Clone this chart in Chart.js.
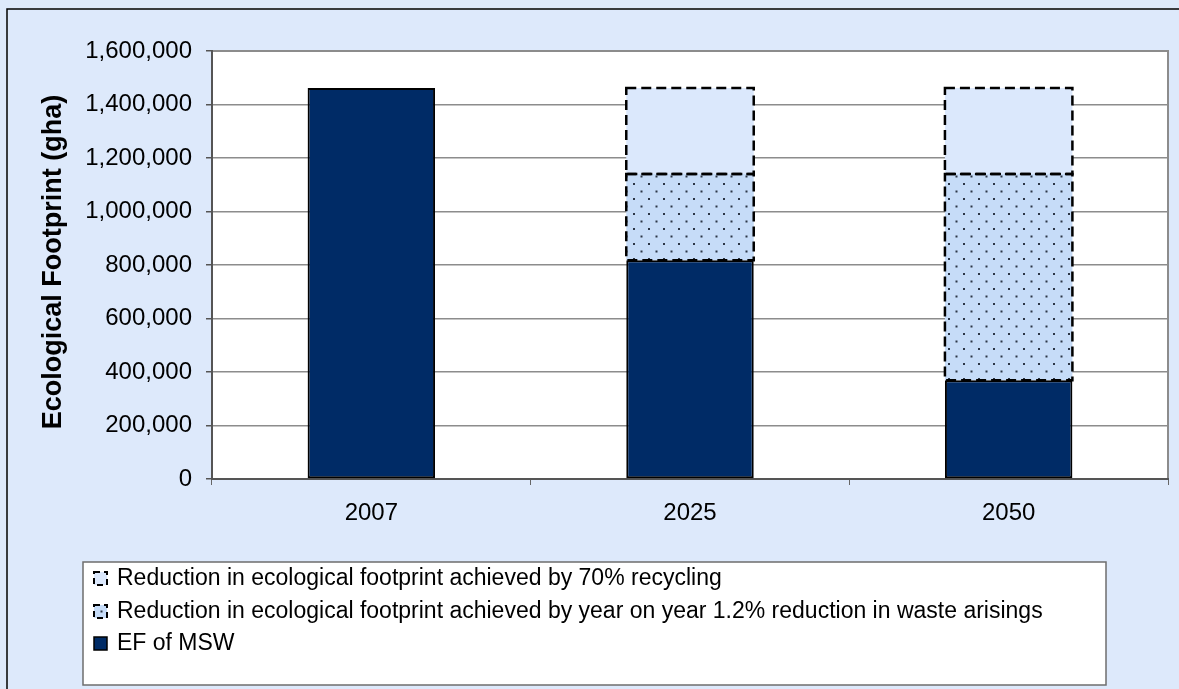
<!DOCTYPE html>
<html lang="en">
  <head>
    <meta charset="UTF-8" />
    <title>Ecological Footprint of MSW</title>
    <style>
      html, body { margin: 0; padding: 0; background: #dde9fb; }
      #chartBox { width: 1179px; height: 689px; }
    </style>
  </head>
  <body>
    <script src="https://cdn.jsdelivr.net/npm/chart.js@4/dist/chart.umd.min.js"></script>
    <div id="chartBox"><canvas id="chartJSContainer"></canvas></div>

    <script>
      // data
      const categories = ["2007", "2025", "2050"];
      const efMSW = [1462000, 818000, 369000];
      const reductionArisings = [0, 322000, 771000];
      const reductionRecycling = [0, 322000, 322000];
      const yTicks = [0, 200000, 400000, 600000, 800000, 1000000, 1200000, 1400000, 1600000];

      const legendLabels = [
        "Reduction in ecological footprint achieved by 70% recycling",
        "Reduction in ecological footprint achieved by year on year 1.2% reduction in waste arisings",
        "EF of MSW"
      ];

      const FONT = "'Liberation Sans', Arial, sans-serif";
      const bgColor = "#dde9fb";
      const navy = "#002b66";
      const paleBlue = "#dbe8fc";
      const dotBlue = "#c6dcf8";

      // dotted fill
      function makeDots() {
        const c = document.createElement("canvas");
        c.width = 15; c.height = 15;
        const g = c.getContext("2d");
        g.fillStyle = dotBlue;
        g.fillRect(0, 0, 15, 15);
        g.fillStyle = "#2c3646";
        g.fillRect(3, 3, 2, 2);
        g.fillRect(10.5, 10.5, 2, 2);
        return g.createPattern(c, "repeat");
      }
      const dotPattern = makeDots();

      const barOpts = { categoryPercentage: 1, barPercentage: 0.4 };

      const data = {
        labels: categories,
        datasets: [
          { label: legendLabels[2], data: efMSW, backgroundColor: navy, borderColor: "#000", borderWidth: 2, borderSkipped: false, ...barOpts },
          { label: legendLabels[1], data: reductionArisings, backgroundColor: dotPattern, borderWidth: 0, dashed: true, ...barOpts },
          { label: legendLabels[0], data: reductionRecycling, backgroundColor: paleBlue, borderWidth: 0, dashed: true, ...barOpts }
        ]
      };

      const frame = {
        id: "frame",
        beforeDraw: (chart) => {
          const { ctx, chartArea: a } = chart;
          ctx.save();
          ctx.fillStyle = bgColor;
          ctx.fillRect(0, 0, chart.width, chart.height);
          ctx.strokeStyle = "#000";
          ctx.lineWidth = 1.5;
          ctx.strokeRect(7, 9, chart.width + 20, chart.height + 20);
          ctx.fillStyle = "#fff";
          ctx.fillRect(a.left, a.top, a.right - a.left, a.bottom - a.top);
          ctx.strokeStyle = "#8c8c8c";
          ctx.lineWidth = 2;
          ctx.strokeRect(a.left, a.top, a.right - a.left, a.bottom - a.top);
          ctx.restore();
        },
        afterDatasetsDraw: (chart) => {
          const ctx = chart.ctx;
          ctx.save();
          ctx.strokeStyle = "#000";
          ctx.lineWidth = 2.5;
          ctx.setLineDash([10, 5]);
          chart.data.datasets.forEach((ds, i) => {
            if (!ds.dashed) return;
            chart.getDatasetMeta(i).data.forEach((bar, j) => {
              if (!ds.data[j]) return;
              const w = bar.width;
              ctx.strokeRect(bar.x - w / 2, bar.y, w, bar.base - bar.y);
            });
          });
          ctx.restore();
        },
        afterDraw: (chart) => {
          const { ctx, chartArea: a } = chart;
          ctx.save();
          // y axis title
          ctx.translate(54, (a.top + a.bottom) / 2 - 3);
          ctx.rotate(-Math.PI / 2);
          ctx.font = "bold 27px " + FONT;
          ctx.fillStyle = "#000";
          ctx.textAlign = "center";
          ctx.textBaseline = "middle";
          ctx.fillText("Ecological Footprint (gha)", 0, 0);
          ctx.restore();

          // legend box
          ctx.save();
          ctx.fillStyle = "#fff";
          ctx.fillRect(83, 562, 1023, 123);
          ctx.strokeStyle = "#6e6e6e";
          ctx.lineWidth = 1.5;
          ctx.strokeRect(83, 562, 1023, 123);
          const fills = [paleBlue, dotPattern, navy];
          const rows = [578, 611, 643];
          ctx.font = "23px " + FONT;
          ctx.textBaseline = "middle";
          legendLabels.forEach((txt, k) => {
            const y = rows[k];
            ctx.fillStyle = fills[k];
            ctx.fillRect(94, y - 6, 13, 13);
            ctx.strokeStyle = "#000";
            ctx.lineWidth = k === 2 ? 1.5 : 2;
            ctx.setLineDash(k === 2 ? [] : [6, 4]);
            ctx.strokeRect(94, y - 6, 13, 13);
            ctx.setLineDash([]);
            ctx.fillStyle = "#000";
            ctx.fillText(txt, 117, y + 1);
          });
          ctx.restore();
        }
      };

      const options = {
        responsive: true,
        maintainAspectRatio: false,
        animation: false,
        layout: { padding: { top: 51, right: 11, left: 0, bottom: 0 } },
        plugins: { legend: { display: false }, tooltip: { enabled: false } },
        scales: {
          x: {
            stacked: true,
            grid: { drawOnChartArea: false, drawTicks: true, tickLength: 6, color: "#666", offset: true },
            border: { color: "#555", width: 2 },
            ticks: { color: "#000", font: { family: FONT, size: 24 }, padding: 14 },
            afterFit: (scale) => { scale.height = 210; }
          },
          y: {
            stacked: true,
            min: 0,
            max: 1600000,
            afterBuildTicks: (scale) => { scale.ticks = yTicks.map(v => ({ value: v })); },
            grid: { color: "#8c8c8c", lineWidth: 1.5, tickLength: 6, tickColor: "#555" },
            border: { color: "#555", width: 2 },
            ticks: {
              color: "#000",
              font: { family: FONT, size: 24 },
              padding: 14,
              callback: (v) => v.toLocaleString("en-US")
            },
            afterFit: (scale) => { scale.width = 212; }
          }
        }
      };

      const config = { type: "bar", data, options, plugins: [frame] };
      new Chart(document.getElementById("chartJSContainer").getContext("2d"), config);
    </script>
  </body>
</html>
